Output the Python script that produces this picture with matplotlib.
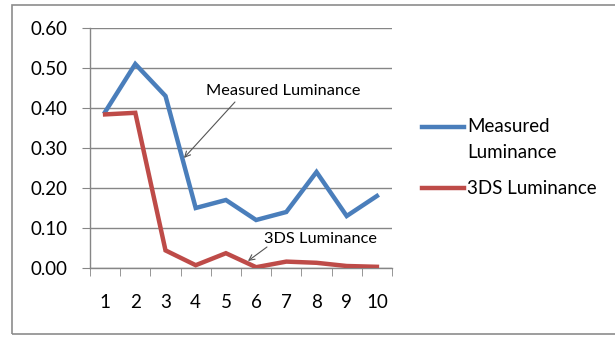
import matplotlib
matplotlib.use("Agg")
import matplotlib.pyplot as plt
from matplotlib.patches import Rectangle
from matplotlib.lines import Line2D

plt.rcParams['font.family'] = ['Lato', 'DejaVu Sans']

categories = [1, 2, 3, 4, 5, 6, 7, 8, 9, 10]
measured = [0.39, 0.51, 0.43, 0.15, 0.17, 0.12, 0.14, 0.24, 0.13, 0.18]
sim3ds = [0.384, 0.388, 0.044, 0.007, 0.037, 0.002, 0.016, 0.013, 0.005, 0.003]
y_ticks = [0.0, 0.1, 0.2, 0.3, 0.4, 0.5, 0.6]

W, H = 615, 337
fig = plt.figure(figsize=(W / 100, H / 100), dpi=100)

# outer chart frame (right edge runs off the canvas)
fig.patches.append(Rectangle((12 / W, 3 / H), 620 / W, 329 / H, transform=fig.transFigure,
                             fill=False, edgecolor='#8c8c8c', linewidth=1.2))

ax = fig.add_axes([90 / W, 69 / H, 302 / W, 240 / H])
blue = '#4A7EBB'
red = '#BE4B48'
ax.plot(categories, measured, color=blue, linewidth=3.2, solid_joinstyle='miter', zorder=3)
ax.plot(categories, sim3ds, color=red, linewidth=3.2, solid_joinstyle='miter', zorder=3)

ax.set_xlim(0.5, 10.5)
ax.set_ylim(0, 0.6)
ax.set_yticks(y_ticks)
ax.set_yticklabels([f"{v:.2f}" for v in y_ticks], fontsize=13.5)
ax.set_xticks(categories)
ax.set_xticklabels([str(c) for c in categories], fontsize=13.5)
ax.set_xticks([c - 0.5 for c in categories] + [10.5], minor=True)
ax.tick_params(axis='x', which='major', length=0, pad=19)
ax.tick_params(axis='x', which='minor', length=6, color='#868686', direction='out')
ax.tick_params(axis='y', length=6, color='#868686', direction='out', pad=10)
ax.grid(axis='y', color='#868686', linewidth=1)
ax.set_axisbelow(True)
for s in ['top', 'right']:
    ax.spines[s].set_visible(False)
for s in ['left', 'bottom']:
    ax.spines[s].set_color('#868686')
    ax.spines[s].set_linewidth(1)

# callout labels with pointer arrows
ax.text(6.89, 0.443, 'Measured Luminance', fontsize=11.8, ha='center', va='center', zorder=4)
ax.annotate('', xy=(3.61, 0.275), xytext=(5.30, 0.415), zorder=4,
            arrowprops=dict(arrowstyle='->', color='#555555', lw=0.8,
                            shrinkA=0, shrinkB=0))
ax.text(8.12, 0.073, '3DS Luminance', fontsize=11.8, ha='center', va='center', zorder=4)
ax.annotate('', xy=(5.73, 0.0175), xytext=(6.36, 0.0525), zorder=4,
            arrowprops=dict(arrowstyle='->', color='#555555', lw=0.8,
                            shrinkA=0, shrinkB=0))

# legend drawn beside the plot
def fx(px):
    return px / W

def fy(py):
    return 1 - py / H

fig.lines.append(Line2D([fx(422), fx(464)], [fy(127), fy(127)], transform=fig.transFigure,
                        color=blue, linewidth=3.2))
fig.text(fx(467), fy(127), 'Measured', fontsize=13.5, va='center', ha='left')
fig.text(fx(467), fy(152), 'Luminance', fontsize=13.5, va='center', ha='left')
fig.lines.append(Line2D([fx(422), fx(464)], [fy(188), fy(188)], transform=fig.transFigure,
                        color=red, linewidth=3.2))
fig.text(fx(467), fy(188), '3DS Luminance', fontsize=13.5, va='center', ha='left')

fig.savefig('out.png', dpi=100)
